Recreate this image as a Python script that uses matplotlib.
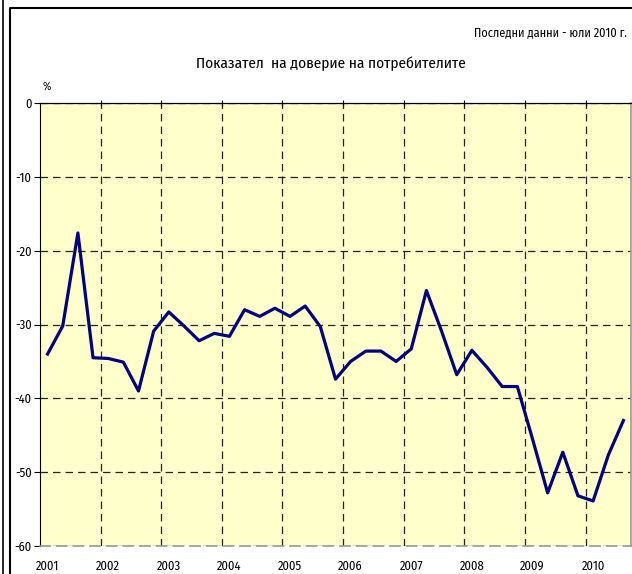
import matplotlib
matplotlib.use("agg")
from matplotlib import pyplot as plt
from matplotlib.lines import Line2D
import numpy as np

plt.rcParams["font.family"] = ["Fira Sans Condensed", "IBM Plex Sans Condensed", "DejaVu Sans"]

# quarterly values, 2001 Q1 .. 2010 Q3
values = [
    -34.0, -30.2, -17.6, -34.5,
    -34.6, -35.1, -39.0, -30.9,
    -28.3, -30.2, -32.2, -31.2,
    -31.6, -28.0, -28.9, -27.8,
    -28.9, -27.5, -30.3, -37.4,
    -35.0, -33.6, -33.6, -35.0,
    -33.3, -25.4, -30.9, -36.8,
    -33.5, -35.8, -38.4, -38.4,
    -45.5, -52.8, -47.3, -53.2,
    -53.9, -47.7, -43.0,
]
years = ["2001", "2002", "2003", "2004", "2005", "2006", "2007", "2008", "2009", "2010"]
y_ticks = [0, -10, -20, -30, -40, -50, -60]

W, H = 632, 574
fig = plt.figure(figsize=(W / 100, H / 100), dpi=100)

# axes box in pixels: left 40, right 631, top 103, bottom 546
ax = fig.add_axes([40 / W, (H - 546) / H, (631 - 40) / W, (546 - 103) / H])
ax.set_facecolor("#FFFFCC")

x = np.arange(len(values))
ax.plot(x, values, color="#000080", linewidth=2.3, zorder=3)

ax.set_xlim(-0.5, len(values) - 0.5)
ax.set_ylim(-60, 0)

ax.set_xticks(np.arange(0, len(values), 4)[:len(years)])
ax.set_xticklabels(years, fontsize=9)
ax.set_xticks(np.arange(3.5, len(values) - 0.5, 4), minor=True)
ax.tick_params(axis="x", which="major", length=0, pad=10)
ax.tick_params(axis="x", which="minor", bottom=False, top=True, direction="inout", length=5,
               color="black", width=0.8)

ax.set_yticks(y_ticks)
ax.set_yticklabels([str(v) for v in y_ticks], fontsize=9)
ax.tick_params(axis="y", length=4, width=0.8, pad=2)

dash = (0, (6, 4))
ax.grid(axis="x", which="minor", color="#222222", linestyle=dash, linewidth=0.9)
ax.grid(axis="y", which="major", color="#222222", linestyle=dash, linewidth=0.9)
ax.set_axisbelow(True)

ax.spines["left"].set_color("black")
ax.spines["top"].set_color("black")
ax.spines["top"].set_linewidth(0.9)
ax.spines["right"].set_color("#999999")
ax.spines["right"].set_linewidth(1.2)
ax.spines["bottom"].set_color("#999999")
ax.spines["bottom"].set_linestyle(dash)
ax.spines["bottom"].set_linewidth(1.2)

fig.text(627 / W, 1 - 32 / H, "Последни данни - юли 2010 г.", ha="right", va="center", fontsize=8.8)
fig.text(331 / W, 1 - 64 / H, "Показател  на доверие на потребителите", ha="center", va="center",
         fontsize=11)
fig.text(47 / W, 1 - 87 / H, "%", ha="center", va="center", fontsize=8)

# outer frame lines
fig.add_artist(Line2D([2.5 / W, 2.5 / W], [0, 1], color="black", linewidth=1.2))
fig.add_artist(Line2D([9.5 / W, 9.5 / W, 1], [0, 1 - 7.5 / H, 1 - 7.5 / H], color="black",
                      linewidth=1.5))

fig.savefig("out.png", dpi=100)
